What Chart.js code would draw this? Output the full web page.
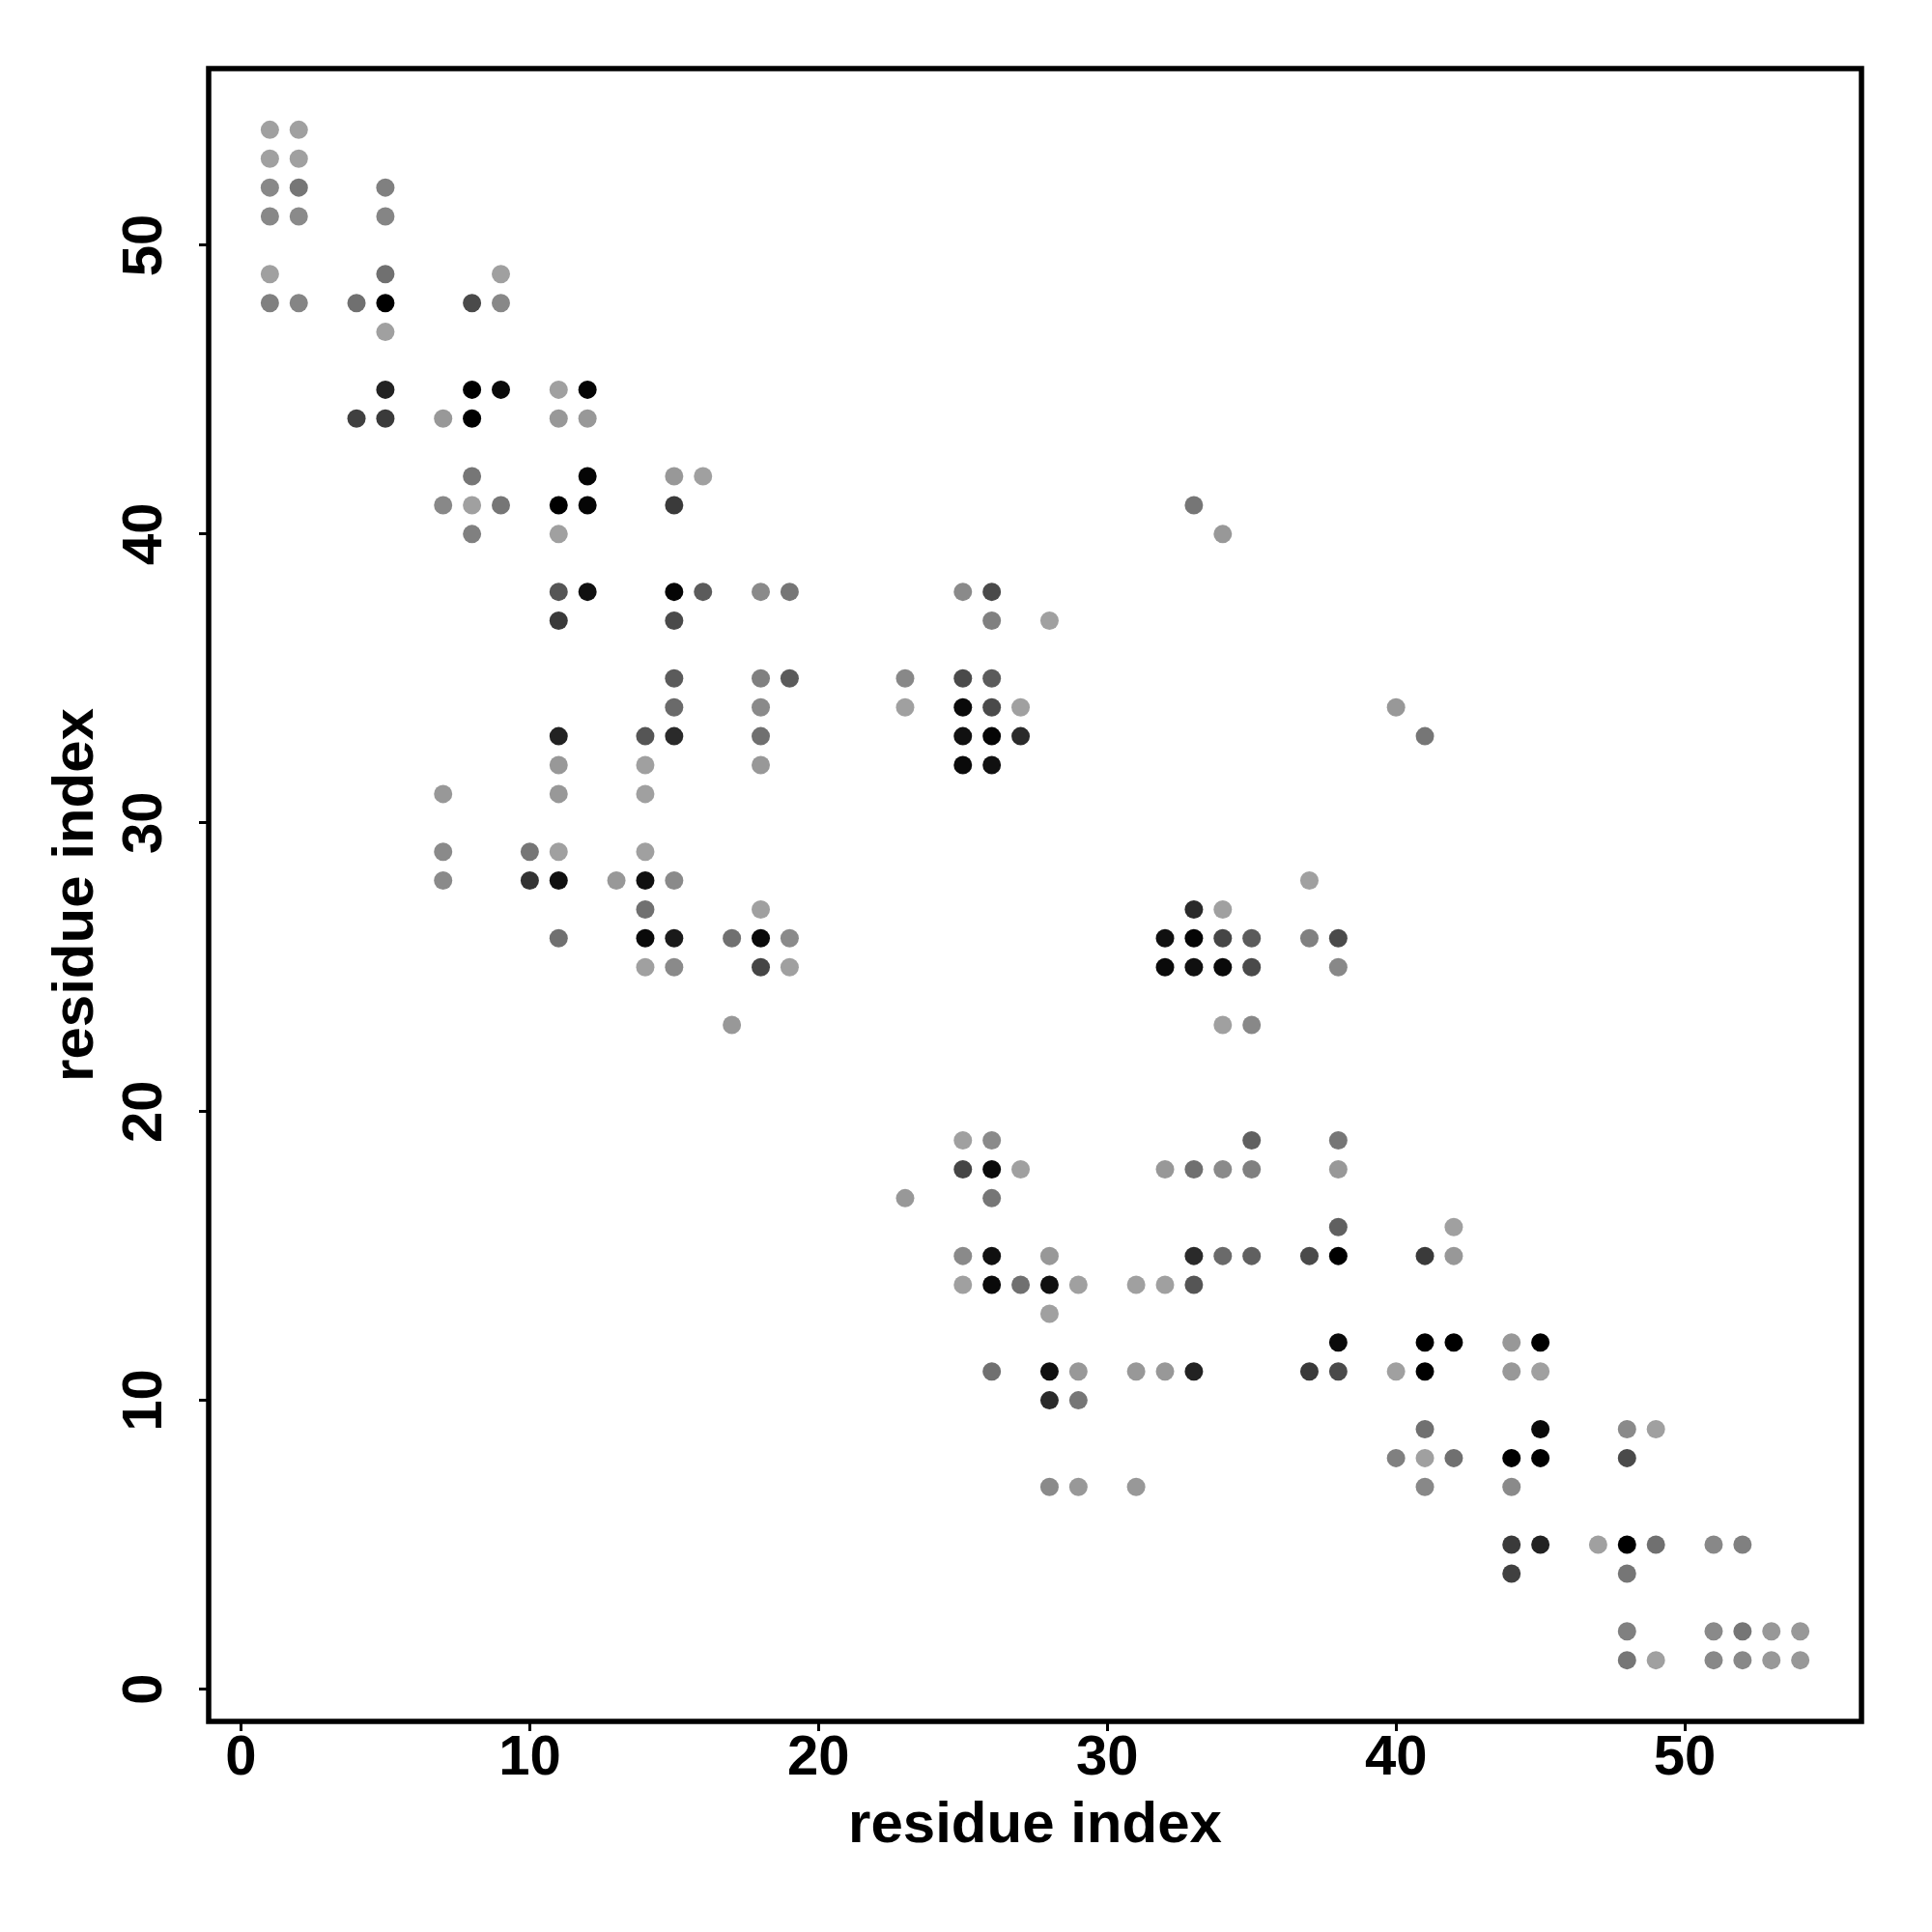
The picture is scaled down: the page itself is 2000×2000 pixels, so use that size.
<!DOCTYPE html>
<html>
<head>
<meta charset="utf-8">
<title>residue contact map</title>
<script src="https://cdn.jsdelivr.net/npm/chart.js@4/dist/chart.umd.min.js"></script>
<style>
  html, body { margin: 0; padding: 0; background: #fff; }
  #wrap { width: 2000px; height: 2000px; }
</style>
</head>
<body>
<div id="wrap"><canvas id="contactChart" width="2000" height="2000"></canvas></div>
<script>
// residue index on the y axis, one entry per row of contacts
const rowIndex = [54, 53, 52, 51, 49, 48, 47, 45, 44, 42, 41, 40, 38, 37, 35, 34, 33, 32, 31, 29, 28, 27, 26, 25, 23,
                  19, 18, 17, 16, 15, 14, 13, 12, 11, 10, 9, 8, 7, 5, 4, 2, 1];

// residue index on the x axis for each row
const colIndex = [
  [1, 2], [1, 2], [1, 2, 5], [1, 2, 5], [1, 5, 9], [1, 2, 4, 5, 8, 9], [5],
  [5, 8, 9, 11, 12], [4, 5, 7, 8, 11, 12], [8, 12, 15, 16], [7, 8, 9, 11, 12, 15, 33], [8, 11, 34],
  [11, 12, 15, 16, 18, 19, 25, 26], [11, 15, 26, 28], [15, 18, 19, 23, 25, 26], [15, 18, 23, 25, 26, 27, 40],
  [11, 14, 15, 18, 25, 26, 27, 41], [11, 14, 18, 25, 26], [7, 11, 14], [7, 10, 11, 14],
  [7, 10, 11, 13, 14, 15, 37], [14, 18, 33, 34], [11, 14, 15, 17, 18, 19, 32, 33, 34, 35, 37, 38],
  [14, 15, 18, 19, 32, 33, 34, 35, 38], [17, 34, 35],
  [25, 26, 35, 38], [25, 26, 27, 32, 33, 34, 35, 38], [23, 26], [38, 42],
  [25, 26, 28, 33, 34, 35, 37, 38, 41, 42], [25, 26, 27, 28, 29, 31, 32, 33], [28],
  [38, 41, 42, 44, 45], [26, 28, 29, 31, 32, 33, 37, 38, 40, 41, 44, 45], [28, 29],
  [41, 45, 48, 49], [40, 41, 42, 44, 45, 48], [28, 29, 31, 41, 44],
  [44, 45, 47, 48, 49, 51, 52], [44, 48], [48, 51, 52, 53, 54], [48, 49, 51, 52, 53, 54]
];

// contact strength (0 = weak / light grey, 1 = strong / black)
const contactScore = [
  [0, 0], [0, 0], [0.15, 0.26, 0.2], [0.15, 0.14, 0.17], [0, 0.3, 0], [0.2, 0.17, 0.3, 1, 0.54, 0.15], [0],
  [0.79, 1, 0.94, 0, 0.97], [0.6, 0.64, 0.05, 1, 0.05, 0.05], [0.26, 0.97, 0.05, 0], [0.15, 0, 0.26, 1, 0.97, 0.64, 0.26], [0.2, 0, 0.05],
  [0.47, 0.9, 0.97, 0.43, 0.14, 0.26, 0.14, 0.54], [0.64, 0.54, 0.2, 0], [0.43, 0.2, 0.43, 0.15, 0.54, 0.43], [0.34, 0.14, 0, 0.94, 0.54, 0, 0.05],
  [0.79, 0.47, 0.74, 0.3, 0.9, 0.97, 0.74, 0.26], [0.05, 0, 0.05, 0.94, 0.9], [0.05, 0.05, 0], [0.14, 0.26, 0, 0],
  [0.14, 0.68, 0.9, 0.05, 0.9, 0.14, 0], [0.3, 0, 0.74, 0], [0.3, 0.94, 0.84, 0.3, 0.94, 0.14, 0.9, 0.97, 0.57, 0.43, 0.2, 0.54],
  [0, 0.14, 0.57, 0, 0.94, 0.9, 0.94, 0.54, 0.15], [0.05, 0, 0.15],
  [0, 0.14, 0.4, 0.26], [0.57, 0.94, 0, 0.05, 0.3, 0.14, 0.2, 0.05], [0.05, 0.26], [0.4, 0],
  [0.14, 0.9, 0.05, 0.74, 0.34, 0.4, 0.54, 1, 0.64, 0.05], [0, 0.94, 0.3, 0.9, 0, 0, 0, 0.47], [0],
  [0.94, 1, 1, 0.05, 1], [0.3, 0.9, 0.05, 0.05, 0.05, 0.79, 0.64, 0.54, 0, 1, 0.05, 0], [0.74, 0.26],
  [0.3, 0.94, 0.14, 0], [0.2, 0, 0.3, 1, 1, 0.54], [0.14, 0.05, 0.05, 0.15, 0.14],
  [0.64, 0.79, 0, 1, 0.3, 0.15, 0.2], [0.6, 0.26], [0.2, 0.14, 0.26, 0.05, 0.05], [0.26, 0, 0.15, 0.15, 0.05, 0.05]
];

const tickValues = [0, 10, 20, 30, 40, 50];
const axisMin = -1.12;
const axisMax = 56.12;
const axisTitle = 'residue index';

// flatten rows into scatter points
function buildPoints() {
    const points = [];
    const colors = [];
    rowIndex.forEach((y, r) => {
        colIndex[r].forEach((x, k) => {
            points.push({ x: x, y: y });
            const g = Math.round(160 * (1 - contactScore[r][k]));
            colors.push(`rgb(${g},${g},${g})`);
        });
    });
    return { points, colors };
}

// box around the plot region, like R's box()
const boxPlugin = {
    id: 'plotBox',
    afterDatasetsDraw(chart) {
        const { ctx, chartArea } = chart;
        ctx.save();
        ctx.strokeStyle = '#000';
        ctx.lineWidth = 5.5;
        ctx.strokeRect(chartArea.left, chartArea.top, chartArea.right - chartArea.left, chartArea.bottom - chartArea.top);
        ctx.restore();
    }
};

const fontFamily = '"Liberation Sans", Arial, Helvetica, sans-serif';
const tickFont = { family: fontFamily, size: 58, weight: 'bold', lineHeight: 1 };
const titleFont = { family: fontFamily, size: 60, weight: 'bold', lineHeight: 1 };

function axisOptions(isX) {
    return {
        type: 'linear',
        min: axisMin,
        max: axisMax,
        afterBuildTicks: (scale) => {
            scale.ticks = tickValues.map(v => ({ value: v }));
        },
        afterFit: (scale) => {
            if (isX) scale.height = 218;
            else scale.width = 216;
        },
        grid: {
            drawOnChartArea: false,
            drawTicks: true,
            tickLength: 10,
            tickWidth: 3,
            tickColor: '#000'
        },
        border: { display: false },
        ticks: isX
            ? { font: tickFont, color: '#000', padding: 0, maxRotation: 0, autoSkip: false }
            : { font: tickFont, color: '#000', padding: 23, minRotation: 90, maxRotation: 90, crossAlign: 'center', autoSkip: false },
        title: {
            display: true,
            text: axisTitle,
            color: '#000',
            font: titleFont,
            padding: isX ? { top: 0, bottom: 80 } : { top: 49, bottom: 0 }
        }
    };
}

document.addEventListener('DOMContentLoaded', function() {
    const { points, colors } = buildPoints();
    const ctx = document.getElementById('contactChart').getContext('2d');
    new Chart(ctx, {
        type: 'scatter',
        data: {
            datasets: [{
                label: 'contacts',
                data: points,
                pointBackgroundColor: colors,
                pointBorderWidth: 0,
                pointBorderColor: 'rgba(0,0,0,0)',
                pointRadius: 9.5,
                pointHoverRadius: 9.5
            }]
        },
        options: {
            responsive: false,
            devicePixelRatio: 1,
            animation: false,
            layout: { padding: { left: 0, right: 73, top: 71, bottom: 0 } },
            plugins: {
                legend: { display: false },
                tooltip: { enabled: false }
            },
            scales: {
                x: axisOptions(true),
                y: axisOptions(false)
            }
        },
        plugins: [boxPlugin]
    });
});
</script>
</body>
</html>
